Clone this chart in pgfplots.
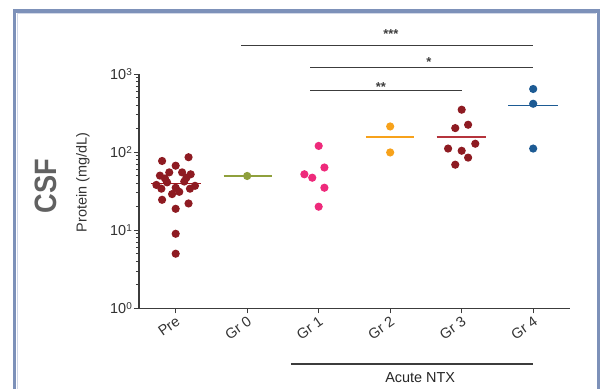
\documentclass[border=0pt]{standalone}
\usepackage{pgfplots}
\pgfplotsset{compat=1.18}
\usepackage{fontspec}
\setmainfont{Liberation Sans}
\definecolor{prered}{RGB}{142,27,34}
\definecolor{grzero}{RGB}{143,160,60}
\definecolor{grone}{RGB}{238,42,123}
\definecolor{grtwo}{RGB}{247,162,27}
\definecolor{grthree}{RGB}{142,27,34}
\definecolor{grthreeline}{RGB}{181,52,60}
\definecolor{grfour}{RGB}{29,91,148}
\definecolor{frame}{RGB}{125,145,185}
\definecolor{axisgray}{RGB}{60,60,60}
\newcommand{\pw}[1]{10\raisebox{0.55ex}{\fontsize{10}{10}\selectfont #1}}
\begin{document}
\begin{tikzpicture}
\useasboundingbox (-139bp,-80.7bp) rectangle (462bp,308.3bp);
\fill[white] (-139bp,-80.7bp) rectangle (462bp,308.3bp);
\draw[frame, line width=3.6bp] (-124.3bp,-90bp) -- (-124.3bp,297.3bp) -- (459.5bp,297.3bp) -- (459.5bp,-90bp);
\draw[frame!35, line width=1bp] (-121bp,-90bp) -- (-121bp,294.5bp) -- (456.5bp,294.5bp);
\begin{axis}[
  at={(0,0)}, anchor=south west, scale only axis,
  width=431bp, height=234.3bp,
  ymode=log, ymin=1, ymax=1000,
  xmin=-0.513, xmax=5.515,
  axis lines*=left,
  axis line style={line width=1.3bp, color=axisgray},
  tick align=outside,
  major tick length=5bp, minor tick length=3bp,
  every tick/.style={line width=0.9bp, color=axisgray},
  xtick={0,1,2,3,4,5},
  xticklabels={Pre,Gr 0,Gr 1,Gr 2,Gr 3,Gr 4},
  xticklabel style={rotate=35, anchor=north east, font=\fontsize{14.5}{16}\selectfont, color=black!80, inner sep=1.5bp},
  ytick={1,10,100,1000},
  yticklabels={\pw{0},\pw{1},\pw{2},\pw{3}},
  yticklabel style={font=\fontsize{14.5}{16}\selectfont, color=black!80, inner sep=2bp},
  minor ytick={2,3,4,5,6,7,8,9,20,30,40,50,60,70,80,90,200,300,400,500,600,700,800,900},
  clip=false,
  every axis plot/.append style={line width=1.3bp},
]
% Pre
\addplot[only marks, mark=*, mark size=3.4bp, color=prered] coordinates {
 (0.00,67) (-0.19,77) (0.18,86) (-0.09,55) (0.09,55) (-0.22,50) (0.21,52)
 (-0.15,46) (0.15,47) (-0.27,38) (0.27,37) (-0.12,41) (0.12,42) (0.00,35)
 (-0.20,34) (0.20,34) (0.05,31) (-0.05,29)
 (-0.19,24.5) (0.18,22) (0.00,18.8) (0.00,9) (0.00,5)
};
\addplot[color=prered!85!red] coordinates {(-0.35,40) (0.35,40)};
% Gr 0
\addplot[color=grzero] coordinates {(0.67,49.5) (1.35,49.5)};
\addplot[only marks, mark=*, mark size=3.4bp, color=grzero] coordinates {(1,49.5)};
% Gr 1
\addplot[only marks, mark=*, mark size=3.4bp, color=grone] coordinates {
 (2.00,120) (2.08,63.5) (1.80,52) (1.91,47) (2.08,35) (2.00,20)
};
% Gr 2
\addplot[color=grtwo] coordinates {(2.66,156) (3.33,156)};
\addplot[only marks, mark=*, mark size=3.4bp, color=grtwo] coordinates {(3,213) (3,99)};
% Gr 3
\addplot[color=grthreeline] coordinates {(3.65,156) (4.34,156)};
\addplot[only marks, mark=*, mark size=3.4bp, color=grthree] coordinates {
 (4.00,349) (4.09,224) (3.91,203) (4.19,128) (3.81,111) (4.00,104) (4.09,85) (3.91,69)
};
% Gr 4
\addplot[color=grfour] coordinates {(4.65,392) (5.35,392)};
\addplot[only marks, mark=*, mark size=3.4bp, color=grfour] coordinates {(5,643) (5,416) (5,111)};
% significance bars
\draw[axisgray, line width=1.2bp] (axis cs:0.92,2305) -- (axis cs:5.0,2305);
\draw[axisgray, line width=1.2bp] (axis cs:1.88,1216) -- (axis cs:5.0,1216);
\draw[axisgray, line width=1.2bp] (axis cs:1.88,616) -- (axis cs:4.0,616);
\node[font=\bfseries\fontsize{13}{13}\selectfont, color=axisgray, inner sep=0pt] at (axis cs:3.01,3250) {***};
\node[font=\bfseries\fontsize{13}{13}\selectfont, color=axisgray, inner sep=0pt] at (axis cs:3.54,1440) {*};
\node[font=\bfseries\fontsize{13}{13}\selectfont, color=axisgray, inner sep=0pt] at (axis cs:2.87,690) {**};
% Acute NTX
\draw[axisgray, line width=1.2bp] ([yshift=-55.7bp]axis cs:1.61,1) -- ([yshift=-55.7bp]axis cs:5.0,1);
\node[font=\fontsize{14.5}{16}\selectfont, color=black!85] at ([yshift=-69bp]axis cs:3.42,1) {Acute NTX};
\end{axis}
\node[rotate=90, font=\bfseries\fontsize{31}{31}\selectfont, color=black!62] at (-93bp,122bp) {\scalebox{0.88}[1]{CSF}};
\node[rotate=90, font=\fontsize{14.5}{16}\selectfont, color=black!80] at (-56bp,126bp) {Protein (mg/dL)};
\end{tikzpicture}
\end{document}
